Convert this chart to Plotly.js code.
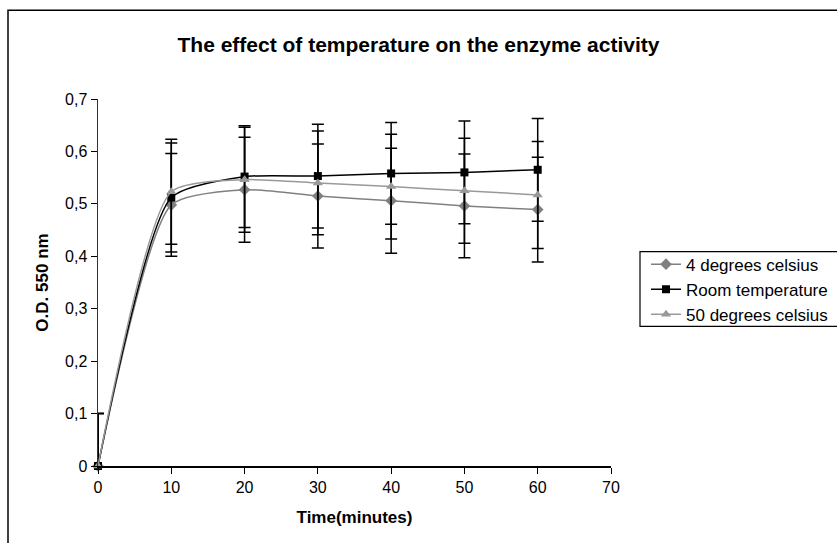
<!DOCTYPE html>
<html>
<head>
<meta charset="utf-8">
<script src="https://cdn.plot.ly/plotly-3.0.1.min.js"></script>
<style>html,body{margin:0;padding:0;background:#fff;}#chart{width:837px;height:543px;}</style>
</head>
<body>
<div id="chart"></div>
<script>
const timeMinutes = [0, 10, 20, 30, 40, 50, 60];
const cold4 = [0, 0.498, 0.527, 0.515, 0.506, 0.496, 0.489];
const cold4Err = [0.1, 0.098, 0.1, 0.099, 0.1, 0.099, 0.1];
const roomTemp = [0, 0.512, 0.552, 0.553, 0.558, 0.560, 0.565];
const roomTempErr = [0.1, 0.104, 0.097, 0.099, 0.097, 0.098, 0.098];
const hot50 = [0, 0.523, 0.546, 0.540, 0.533, 0.525, 0.517];
const hot50Err = [0.1, 0.1, 0.1, 0.099, 0.1, 0.1, 0.102];
const seriesNames = ['4 degrees celsius', 'Room temperature', '50 degrees celsius'];

const font = 'Arial, "Liberation Sans", sans-serif';

function trace(name, y, err, color, symbol, size) {
  return {
    x: timeMinutes, y: y, name: name, type: 'scatter', mode: 'lines+markers',
    line: {color: color, width: 1.5, shape: 'spline', smoothing: 0.6},
    marker: {color: color, symbol: symbol, size: size},
    error_y: {type: 'data', array: err, visible: true, color: '#000', thickness: 1.5, width: 6},
    cliponaxis: false
  };
}

const data = [
  trace(seriesNames[0], cold4, cold4Err, '#808080', 'diamond', 9),
  trace(seriesNames[1], roomTemp, roomTempErr, '#000000', 'square', 8),
  trace(seriesNames[2], hot50, hot50Err, '#999999', 'triangle-up', 9)
];

// plot area: x 98..611 px, y 99..467 px
const pw = 513, ph = 368;
const px = v => (v - 98) / pw;
const py = v => (467 - v) / ph;

const layout = {
  width: 837, height: 543,
  margin: {l: 98, r: 226, t: 99, b: 77, autoexpand: false},
  paper_bgcolor: '#fff', plot_bgcolor: '#fff',
  separators: ',.',
  font: {family: font, size: 16, color: '#000'},
  title: {text: '<b>The effect of temperature on the enzyme activity</b>', x: 0.5, xref: 'container', y: 0.917, yanchor: 'middle', font: {family: font, size: 21, color: '#000'}},
  xaxis: {
    range: [0, 70], dtick: 10, tick0: 0, ticks: 'outside', ticklen: 6, tickcolor: '#000',
    showline: true, linecolor: '#000', linewidth: 1.5, showgrid: false, zeroline: false,
    tickfont: {family: font, size: 16, color: '#000'},
    title: {text: '<b>Time(minutes)</b>', font: {family: font, size: 17, color: '#000'}, standoff: 16}
  },
  yaxis: {
    range: [0, 0.7], dtick: 0.1, tick0: 0, ticks: 'outside', ticklen: 6, tickcolor: '#000',
    showline: true, linecolor: '#333', linewidth: 1.5, showgrid: false, zeroline: false,
    tickfont: {family: font, size: 16, color: '#000'},
    title: {text: '<b>O.D. 550 nm</b>', font: {family: font, size: 17, color: '#000'}, standoff: 12}
  },
  legend: {
    x: px(646), xanchor: 'left', y: py(247), yanchor: 'top',
    borderwidth: 0, bgcolor: 'rgba(0,0,0,0)',
    font: {family: font, size: 17, color: '#000'},
    tracegroupgap: 0
  },
  showlegend: true,
  shapes: [{
    type: 'rect', xref: 'paper', yref: 'paper',
    x0: px(8), x1: px(900), y0: py(600), y1: py(10),
    line: {color: '#000', width: 1.5}, fillcolor: 'rgba(0,0,0,0)', layer: 'below'
  }, {
    type: 'rect', xref: 'paper', yref: 'paper',
    x0: px(640), x1: px(900), y0: py(327), y1: py(252),
    line: {color: '#000', width: 1.2}, fillcolor: '#fff', layer: 'below'
  }]
};

Plotly.newPlot('chart', data, layout, {displayModeBar: false, staticPlot: true});
</script>
</body>
</html>
